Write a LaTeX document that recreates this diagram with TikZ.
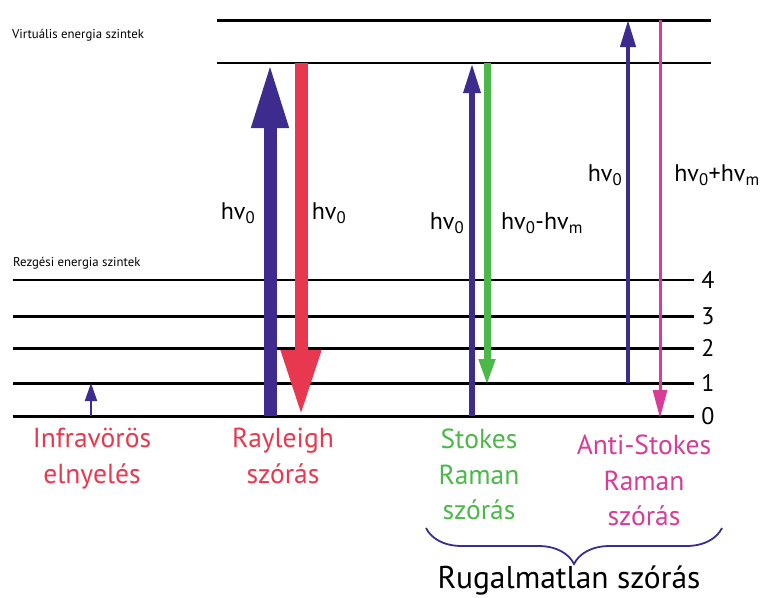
\documentclass[tikz,border=0pt]{standalone}
\usepackage{fontspec}
\setmainfont{PT Sans}
\usetikzlibrary{arrows.meta,decorations.pathreplacing}
\definecolor{cblue}{HTML}{3D2B8E}
\definecolor{cred}{HTML}{E8384F}
\definecolor{cgreen}{HTML}{4CB849}
\definecolor{cmag}{HTML}{D63C98}
\tikzset{
  lvl/.style={line width=3pt},
  lvlthin/.style={line width=2pt},
  smalltxt/.style={font=\fontsize{12.8}{14}\selectfont, anchor=west, inner sep=0pt},
  hvlbl/.style={font=\fontsize{24}{26}\selectfont, inner sep=0pt},
  numlbl/.style={font=\fontsize{24}{26}\selectfont, inner sep=0pt},
  captxt/.style={font=\fontsize{27.5}{35.5}\selectfont, align=center, anchor=north, inner sep=0pt},
}
\newcommand{\hvz}{hv\textsubscript{0}}
\newcommand{\hvm}{hv\textsubscript{m}}
\begin{document}
\begin{tikzpicture}[x=1pt,y=-1pt]
\useasboundingbox (0,0) rectangle (768,597);
% virtual levels
\coordinate (v2a) at (217,20); \coordinate (v2b) at (711,20);
\coordinate (v1a) at (217,63); \coordinate (v1b) at (711,63);
\draw[lvl] (v2a) -- (v2b);
\draw[lvlthin] (v1a) -- (v1b);
% vibrational levels
\foreach \n/\y/\w in {4/280/2.5,3/316/3,2/348/3,1/383/3,0/416/3}{
  \coordinate (l\n a) at (13,\y);
  \coordinate (l\n b) at (694,\y);
  \draw[line width=\w pt] (l\n a) -- (l\n b);
  \node[numlbl] (n\n) at (708,\y) {\n};
}
\node[smalltxt] (virt) at (12,35) {Virtuális energia szintek};
\node[smalltxt] (rezg) at (13,263) {Rezgési energia szintek};
% IR absorption
\coordinate (ir0) at (91,416); \coordinate (ir1) at (91,383);
\draw[cblue, line width=2pt, -{Triangle[length=18pt,width=12pt]}] (ir0) -- (ir1);
% Rayleigh
\coordinate (ru0) at (270,416); \coordinate (ru1) at (270,63);
\coordinate (rd0) at (301,63); \coordinate (rd1) at (301,416);
\draw[cblue, line width=13pt, -{Triangle[length=65pt,width=34pt]}] (ru0) -- (ru1);
\draw[cred, line width=13pt, -{Triangle[length=66pt,width=37pt]}] (rd0) -- (rd1);
% Stokes
\coordinate (su0) at (472,416); \coordinate (su1) at (472,63);
\coordinate (sd0) at (487,63); \coordinate (sd1) at (487,386);
\draw[cblue, line width=6pt, -{Triangle[length=30pt,width=16pt]}] (su0) -- (su1);
\draw[cgreen, line width=7pt, -{Triangle[length=27pt,width=15pt]}] (sd0) -- (sd1);
% Anti-Stokes
\coordinate (au0) at (628,383); \coordinate (au1) at (628,20);
\coordinate (ad0) at (660,20); \coordinate (ad1) at (660,418);
\draw[cblue, line width=4pt, -{Triangle[length=27pt,width=15pt]}] (au0) -- (au1);
\draw[cmag, line width=3pt, -{Triangle[length=28pt,width=14pt]}] (ad0) -- (ad1);
% photon labels
\node[hvlbl] (h1) at (238,213) {\hvz};
\node[hvlbl] (h2) at (329,213) {\hvz};
\node[hvlbl] (h3) at (447,223) {\hvz};
\node[hvlbl] (h4) at (542,223) {\hvz-\hvm};
\node[hvlbl] (h5) at (605,175) {\hvz};
\node[hvlbl] (h6) at (717,175) {\hvz+\hvm};
% captions
\node[captxt, text=cred] (c1) at (92,428) {Infravörös\\elnyelés};
\node[captxt, text=cred] (c2) at (283,428) {Rayleigh\\szórás};
\node[captxt, text=cgreen] (c3) at (479,429) {Stokes\\Raman\\szórás};
\node[captxt, text=cmag] (c4) at (644,435) {Anti-Stokes\\Raman\\szórás};
% brace
\coordinate (b0) at (426,528); \coordinate (b1) at (722,528);
\draw[cblue, line width=1.8pt, decorate, decoration={brace, mirror, amplitude=36pt}] (b0) -- (b1);
\node[font=\fontsize{31.5}{34}\selectfont, inner sep=0pt] (rug) at (569,580) {Rugalmatlan szórás};
\end{tikzpicture}
\end{document}
